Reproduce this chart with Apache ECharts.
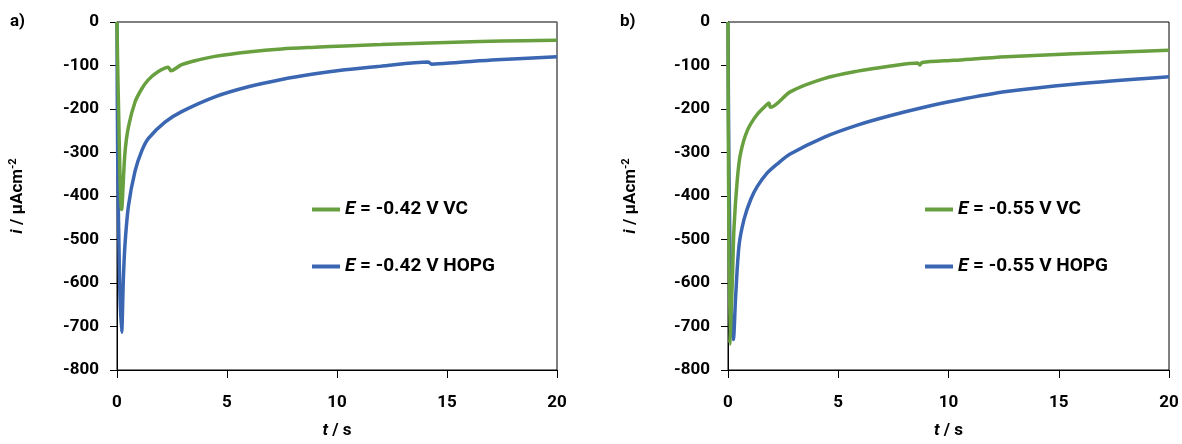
<!DOCTYPE html>
<html>
<head>
<meta charset="utf-8">
<script src="https://cdn.jsdelivr.net/npm/echarts@6/dist/echarts.min.js"></script>
<style>
html,body{margin:0;padding:0;background:#fff;}
#c{width:1182px;height:444px;}
</style>
</head>
<body>
<div id="c"></div>
<script>
// ---- data ----
var xTicks = [0, 5, 10, 15, 20];
var yTicks = [0, -100, -200, -300, -400, -500, -600, -700, -800];

var legendA = ['-0.42 V VC', '-0.42 V HOPG'];
var legendB = ['-0.55 V VC', '-0.55 V HOPG'];

// (a) E = -0.42 V, VC
var tA_VC = [0, 0.05, 0.21, 0.36, 0.52, 0.82, 1.12, 1.42, 1.88, 2.33, 2.45, 2.94, 3.7, 4.45, 5.97, 7.48, 9.0, 10.36, 12.0, 14.2, 16.5, 18.5, 20];
var iA_VC = [0, -150, -431, -302, -241, -184, -154, -133, -114, -104, -112, -98, -87, -79, -69, -62, -58, -55, -52, -48, -45, -43, -42];

// (a) E = -0.42 V, HOPG
var tA_HOPG = [0, 0.03, 0.12, 0.21, 0.29, 0.36, 0.52, 0.82, 1.12, 1.42, 2.18, 2.94, 4.45, 5.97, 7.48, 9.0, 10.36, 11.95, 14.15, 14.3, 15.5, 17.25, 20];
var iA_HOPG = [0, -300, -600, -713, -590, -514, -423, -343, -297, -268, -230, -206, -172, -149, -132, -119, -110, -102, -92, -97, -93, -87, -80];

// (b) E = -0.55 V, VC
var tB_VC = [0, 0.08, 0.2, 0.27, 0.42, 0.57, 0.88, 1.33, 1.78, 1.85, 1.93, 2.84, 4.35, 5.87, 7.38, 8.6, 8.7, 8.8, 10.27, 12.63, 15.66, 20];
var iB_VC = [0, -740, -590, -476, -363, -302, -249, -212, -189, -186, -196, -160, -130, -113, -101, -94, -99, -93, -88, -80, -73, -65];

// (b) E = -0.55 V, HOPG
var tB_HOPG = [0, 0.04, 0.14, 0.24, 0.35, 0.5, 0.73, 1.03, 1.33, 1.78, 2.24, 2.84, 4.35, 5.87, 7.38, 8.89, 10.27, 12.63, 15.66, 20];
var iB_HOPG = [0, -320, -660, -730, -628, -514, -453, -408, -378, -347, -326, -303, -265, -237, -215, -196, -181, -160, -143, -126];

function pairs(t, v){ var out=[]; for(var k=0;k<t.length;k++){ out.push([t[k], v[k]]); } return out; }

var GREEN = '#68A040';
var BLUE = '#3A66B2';
var FONT = 'Roboto';
var FS = 17;
var LFS = 19;

var chart = echarts.init(document.getElementById('c'));

function yAxisCfg(idx, gap){
  return {
    type:'value', gridIndex: idx, min: -800, max: 0, interval: 100,
    axisLine:{show:true, lineStyle:{color:'#000', width:1}},
    axisTick:{show:true, inside:false, length:7, lineStyle:{color:'#000'}},
    splitLine:{show:false},
    axisLabel:{fontFamily:FONT, fontWeight:'bold', fontSize:FS, color:'#000', margin:18},
    name:'{it|i} / µAcm{sup|-2}', nameLocation:'middle', nameGap: gap, nameRotate: 90,
    nameTextStyle:{fontFamily:FONT, fontWeight:'bold', fontSize:FS, color:'#000',
      rich:{
        it:{fontFamily:FONT, fontWeight:'bold', fontStyle:'italic', fontSize:FS, color:'#000'},
        sup:{fontFamily:FONT, fontWeight:'bold', fontSize:11, color:'#000', verticalAlign:'top', padding:[0,0,8,0]}
      }}
  };
}
function xAxisCfg(idx){
  return {
    type:'value', gridIndex: idx, min: 0, max: 20, interval: 5, position:'bottom',
    axisLine:{show:true, onZero:false, lineStyle:{color:'#000', width:1}},
    axisTick:{show:true, inside:false, length:8, lineStyle:{color:'#000'}},
    splitLine:{show:false},
    axisLabel:{fontFamily:FONT, fontWeight:'bold', fontSize:FS, color:'#000', margin:24},
    name:'{it|t} / s', nameLocation:'middle', nameGap: 52,
    nameTextStyle:{fontFamily:FONT, fontWeight:'bold', fontSize:FS, color:'#000',
      rich:{it:{fontFamily:FONT, fontWeight:'bold', fontStyle:'italic', fontSize:FS, color:'#000'}}}
  };
}
function topAxis(idx, color){
  return {type:'value', gridIndex: idx, min:0, max:20, position:'top',
    axisLine:{show:true, lineStyle:{color:color, width:1.5}}, axisTick:{show:false}, axisLabel:{show:false}, splitLine:{show:false}};
}
function lineSeries(name, xi, yi, data, color){
  return {type:'line', name:name, xAxisIndex: xi, yAxisIndex: yi, data:data,
    showSymbol:false, symbol:'none', smooth:0.3,
    lineStyle:{color:color, width:3.5}, itemStyle:{color:color}, z:3};
}
function legendCfg(names, left){
  return {
    orient:'vertical', left:left, top:195, itemGap:38, itemWidth:28, itemHeight:4, icon:'rect',
    data:names,
    formatter:function(n){ return '{it|E} = ' + n.replace(/^[AB] /,''); },
    textStyle:{fontFamily:FONT, fontWeight:'bold', fontSize:LFS, color:'#000',
      rich:{it:{fontFamily:FONT, fontWeight:'bold', fontStyle:'italic', fontSize:LFS, color:'#000'}}}
  };
}

var nA0 = 'A ' + legendA[0], nA1 = 'A ' + legendA[1];
var nB0 = 'B ' + legendB[0], nB1 = 'B ' + legendB[1];

chart.setOption({
  animation:false,
  backgroundColor:'#fff',
  grid:[
    {left:117, top:22, width:440, height:352, show:true, borderColor:'#000', borderWidth:1},
    {left:728, top:22, width:441, height:352, show:true, borderColor:'#000', borderWidth:1}
  ],
  xAxis:[xAxisCfg(0), xAxisCfg(1), topAxis(0,'#808080')],
  yAxis:[yAxisCfg(0, 90), yAxisCfg(1, 88)],
  legend:[legendCfg([nA0, nA1], 307), legendCfg([nB0, nB1], 920)],
  graphic:[
    {type:'text', left:10, top:13, style:{text:'a)', fontFamily:FONT, fontWeight:'bold', fontSize:FS, fill:'#000'}},
    {type:'text', left:620, top:13, style:{text:'b)', fontFamily:FONT, fontWeight:'bold', fontSize:FS, fill:'#000'}}
  ],
  series:[
    lineSeries(nA1, 0, 0, pairs(tA_HOPG, iA_HOPG), BLUE),
    lineSeries(nA0, 0, 0, pairs(tA_VC, iA_VC), GREEN),
    lineSeries(nB1, 1, 1, pairs(tB_HOPG, iB_HOPG), BLUE),
    lineSeries(nB0, 1, 1, pairs(tB_VC, iB_VC), GREEN)
  ]
});
</script>
</body>
</html>
